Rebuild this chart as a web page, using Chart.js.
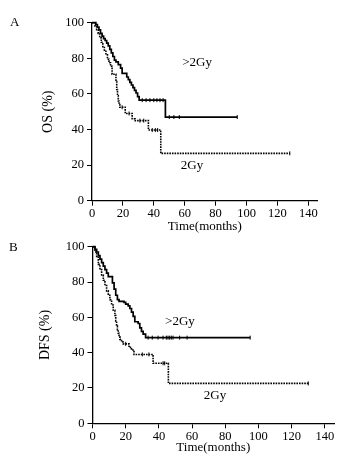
<!DOCTYPE html>
<html>
<head>
<meta charset="utf-8">
<script src="https://cdn.jsdelivr.net/npm/chart.js"></script>
<style>
    body { margin: 0; background: #fff; width: 354px; height: 460px; overflow: hidden; position: relative; font-family: "Liberation Serif", serif; }
    .panel { position: absolute; left: 0; width: 354px; }
    .tag { position: absolute; font-size: 13px; color: #000; }
</style>
</head>
<body>
<div class="panel" style="top:0;height:240px"><canvas id="chartA"></canvas></div>
<div class="panel" style="top:230px;height:230px"><canvas id="chartB"></canvas></div>
<div class="tag" style="left:10px;top:14px">A</div>
<div class="tag" style="left:9px;top:239px">B</div>
<script>
// ==============================
// Data
// ==============================

// Panel A - OS, >2Gy group (solid)
const osHighTime = [0, 2.5, 3.5, 4.5, 5.5, 6.5, 7.5, 8.5, 9.5, 10.5, 11.5, 12.5, 13.5, 14.5, 15.5, 17, 18.5, 19.5, 22.5, 23.5, 24.5, 25.5, 26.5, 27.5, 28.5, 29.5, 30.5, 47.5, 94];
const osHighSurv = [100, 99, 97.5, 96, 94, 92.5, 91, 90, 88.5, 87, 85, 83, 81, 79, 78, 76.5, 74.5, 71.5, 69.5, 68, 66.5, 65, 63.5, 62, 60.5, 58.5, 56.5, 47, 47];
const osHighCensor = [32.5, 35, 37.5, 40, 42, 44, 46, 50, 53, 56.5, 94];

// Panel A - OS, 2Gy group (dotted)
const osLowTime = [0, 2, 3, 4, 5, 6, 7, 8, 9, 10, 11, 12, 13, 15.5, 16, 16.5, 17, 17.5, 18, 21.5, 26, 28, 36.5, 44.5, 128];
const osLowSurv = [100, 98, 96, 94, 91.5, 89, 86.5, 84, 82, 79.5, 77.5, 75.5, 71, 67, 62.5, 59, 56, 54, 52.5, 49, 46, 45, 39.7, 26.6, 26.6];
const osLowCensor = [19.5, 24, 31, 33.5, 39, 41, 42.5, 128];

// Panel B - DFS, >2Gy group (solid)
const dfsHighTime = [0, 1.5, 2.5, 3.5, 4.5, 5.5, 6.5, 7.5, 8.5, 9.5, 12, 13, 14, 15, 16, 19, 20, 21.5, 22.5, 23.5, 24.5, 25.5, 27.5, 28.5, 29.5, 30.5, 32, 95];
const dfsHighSurv = [100, 98.5, 97, 95, 93, 91, 89, 87, 85, 83, 79.5, 76, 72.5, 70, 69, 68.5, 67.5, 66.5, 65, 63, 60.5, 57.5, 56.5, 54, 52, 50.5, 48.5, 48.5];
const dfsHighCensor = [33.5, 36, 39.5, 42.5, 44.5, 45.5, 46.5, 47.5, 48.5, 52.5, 57, 95];

// Panel B - DFS, 2Gy group (dotted)
const dfsLowTime = [0, 1.5, 2.5, 3.5, 4.5, 5.5, 6.5, 7.5, 8.5, 9.5, 10.5, 11.5, 12.5, 13.5, 14, 14.5, 15, 15.5, 16, 16.5, 17.5, 18.5, 22, 23.5, 25, 36.5, 45.7, 130];
const dfsLowSurv = [100, 97, 94, 90, 87, 84, 81, 78, 75, 72.5, 70, 67, 64, 61, 58, 55, 53, 51, 49, 47.5, 46, 45, 43, 41.5, 39, 34, 22.6, 22.6];
const dfsLowCensor = [20, 30, 34, 42.5, 43.5, 130];

// Axis ticks
const xTicks = [0, 20, 40, 60, 80, 100, 120, 140];
const yTicks = [0, 20, 40, 60, 80, 100];

// Group labels, placed in data units
const groupLabelsA = [{ text: '>2Gy', x: 68, y: 77.4 }, { text: '2Gy', x: 64.7, y: 19.5 }];
const groupLabelsB = [{ text: '>2Gy', x: 52.7, y: 57.5 }, { text: '2Gy', x: 73.8, y: 15.6 }];

// ==============================
// Helpers
// ==============================

const FONT = '"Liberation Serif", "Times New Roman", serif';

function toPoints(times, values) {
    return times.map((t, i) => ({ x: t, y: values[i] }));
}

// value of the step curve at time t (for placing censor marks on the curve)
function stepValue(times, values, t) {
    let v = values[0];
    for (let i = 0; i < times.length; i++) {
        if (times[i] <= t) v = values[i];
    }
    return v;
}

function censorPoints(times, values, censor) {
    return censor.map(t => ({ x: t, y: stepValue(times, values, t) }));
}

const groupLabelPlugin = {
    id: 'groupLabels',
    afterDatasetsDraw(chart, args, opts) {
        const { ctx, scales: { x, y } } = chart;
        ctx.save();
        ctx.font = '13px ' + FONT;
        ctx.fillStyle = '#000';
        ctx.textAlign = 'center';
        ctx.textBaseline = 'middle';
        opts.items.forEach(it => ctx.fillText(it.text, x.getPixelForValue(it.x), y.getPixelForValue(it.y)));
        ctx.restore();
    }
};

function makeChart(id, cfg) {
    const curveStyle = { type: 'line', stepped: 'before', pointRadius: 0, borderColor: '#000', fill: false, clip: false };
    const censorStyle = { type: 'scatter', showLine: false, pointStyle: 'line', rotation: 90, pointRadius: 2, borderColor: '#000', borderWidth: 1, clip: false };

    return new Chart(document.getElementById(id), {
        data: {
            datasets: [
                { ...curveStyle, label: '2Gy', data: toPoints(cfg.lowTime, cfg.lowSurv), borderWidth: 1.6, borderDash: [1.6, 1] },
                { ...censorStyle, label: '2Gy censored', data: censorPoints(cfg.lowTime, cfg.lowSurv, cfg.lowCensor) },
                { ...curveStyle, label: '>2Gy', data: toPoints(cfg.highTime, cfg.highSurv), borderWidth: 1.7 },
                { ...censorStyle, label: '>2Gy censored', data: censorPoints(cfg.highTime, cfg.highSurv, cfg.highCensor) }
            ]
        },
        options: {
            responsive: true,
            maintainAspectRatio: false,
            animation: false,
            layout: { padding: cfg.padding },
            scales: {
                x: {
                    type: 'linear',
                    min: 0,
                    max: cfg.xMax,
                    afterFit: s => { s.height = cfg.xHeight; },
                    afterBuildTicks: s => { s.ticks = xTicks.map(v => ({ value: v })); },
                    grid: { display: true, drawOnChartArea: false, drawTicks: true, tickLength: 5, color: '#000', lineWidth: 1 },
                    border: { display: true, color: '#000', width: 1.3 },
                    ticks: { color: '#000', padding: 1, maxRotation: 0, font: { family: FONT, size: 12.5 } },
                    title: { display: true, text: 'Time(months)', color: '#000', padding: { top: 0, bottom: cfg.xTitlePad }, font: { family: FONT, size: 13 } }
                },
                y: {
                    type: 'linear',
                    min: 0,
                    max: 100,
                    afterFit: s => { s.width = cfg.yWidth; },
                    afterBuildTicks: s => { s.ticks = yTicks.map(v => ({ value: v })); },
                    grid: { display: true, drawOnChartArea: false, drawTicks: true, tickLength: 5, color: '#000', lineWidth: 1 },
                    border: { display: true, color: '#000', width: 1.3 },
                    ticks: { color: '#000', padding: 3, font: { family: FONT, size: 12.5 } },
                    title: { display: true, text: cfg.yTitle, color: '#000', padding: 0, font: { family: FONT, size: 14 } }
                }
            },
            plugins: {
                legend: { display: false },
                tooltip: { enabled: false },
                groupLabels: { items: cfg.labels }
            }
        },
        plugins: [groupLabelPlugin]
    });
}

// ==============================
// Build both panels
// ==============================

makeChart('chartA', {
    highTime: osHighTime, highSurv: osHighSurv, highCensor: osHighCensor,
    lowTime: osLowTime, lowSurv: osLowSurv, lowCensor: osLowCensor,
    yTitle: 'OS (%)', labels: groupLabelsA,
    xMax: 146, padding: { left: 39.6, top: 22.7, right: 36.4, bottom: 0 },
    yWidth: 52.4, xHeight: 39.3, xTitlePad: 5.7
});

makeChart('chartB', {
    highTime: dfsHighTime, highSurv: dfsHighSurv, highCensor: dfsHighCensor,
    lowTime: dfsLowTime, lowSurv: dfsLowSurv, lowCensor: dfsLowCensor,
    yTitle: 'DFS (%)', labels: groupLabelsB,
    xMax: 145.5, padding: { left: 36.6, top: 16.7, right: 20, bottom: 0 },
    yWidth: 55.9, xHeight: 36.7, xTitlePad: 4.2
});
</script>
</body>
</html>
